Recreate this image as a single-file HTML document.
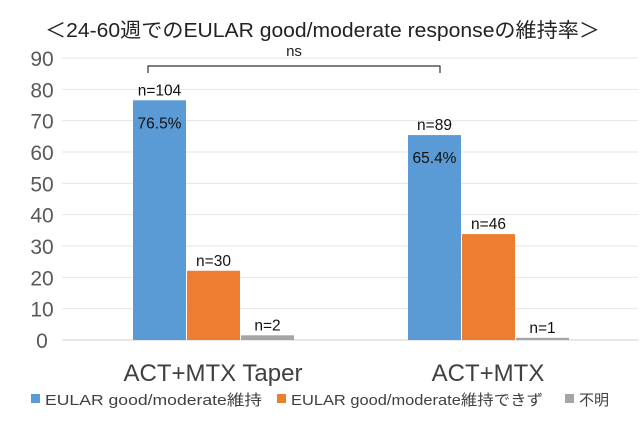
<!DOCTYPE html>
<html><head><meta charset="utf-8">
<style>
body{margin:0;background:#fff;}
svg{display:block;font-family:"Liberation Sans","Noto Sans CJK JP",sans-serif;}
</style></head>
<body>
<svg id="chart" width="640" height="430" viewBox="0 0 640 430">
<text x="45" y="37" textLength="555" lengthAdjust="spacingAndGlyphs" font-size="20" fill="#222">＜24-60週でのEULAR good/moderate responseの維持率＞</text>
<g id="grid"></g>
<g id="bars"></g>
<g id="labels"></g>
<g>
<path d="M148 73 V66 H440 V73" fill="none" stroke="#333" stroke-width="1.2"/>
<text x="294" y="56" text-anchor="middle" font-size="15" fill="#222">ns</text>
</g>
<g>
<g><rect x="31" y="394" width="9" height="9" fill="#5b9bd5"/><text x="45" y="405" font-size="15" textLength="217" lengthAdjust="spacingAndGlyphs" fill="#404040">EULAR good/moderate維持</text></g>
<g><rect x="277" y="394" width="9" height="9" fill="#ed7d31"/><text x="291" y="405" font-size="15" textLength="252" lengthAdjust="spacingAndGlyphs" fill="#404040">EULAR good/moderate維持できず</text></g>
<g><rect x="565" y="394" width="9" height="9" fill="#a5a5a5"/><text x="579" y="405" font-size="15" fill="#404040">不明</text></g>
</g>
</svg>
<script>
const categories=["ACT+MTX Taper","ACT+MTX"];
const maintained=[76.5,65.4];
const notMaintained=[22.1,33.8];
const unknown=[1.5,0.7];
const countMaintained=["n=104","n=89"];
const countNot=["n=30","n=46"];
const countUnknown=["n=2","n=1"];
const pctLabels=["76.5%","65.4%"];
const ticks=[0,10,20,30,40,50,60,70,80,90];

const NS="http://www.w3.org/2000/svg";
const y0=340,yTop=58,vmax=90;
const y=v=>y0-(v/vmax)*(y0-yTop);
const groupX=[133,408],bw=53;
function mk(tag,attrs,parent,txt){const e=document.createElementNS(NS,tag);for(const k in attrs)e.setAttribute(k,attrs[k]);if(txt!==undefined)e.textContent=txt;document.getElementById(parent).appendChild(e);return e;}
ticks.forEach(t=>{
 const l=mk("line",{x1:62,x2:638,y1:y(t),y2:y(t),stroke:t===0?"#d0d0d0":"#e6e6e6","stroke-width":1},"grid");
 
 
 const tx=mk("text",{x:42,y:y(t)+8,"text-anchor":"middle","font-size":21,fill:"#595959"},"grid",t);
 
 
});
const series=[[maintained,"#5b9bd5",countMaintained],[notMaintained,"#ed7d31",countNot],[unknown,"#a5a5a5",countUnknown]];
categories.forEach((c,i)=>{
 series.forEach((s,j)=>{
  const x=groupX[i]+j*bw+(j>0?j:0);
  const v=s[0][i];
  const r=mk("rect",{x:x,y:y(v),width:bw,height:y0-y(v),fill:s[1]},"bars");
  
  
  const t=mk("text",{x:x+bw/2,y:y(v)-5,"text-anchor":"middle","font-size":15.5,fill:"#111"},"labels",s[2][i]);
  
  
 });
 const p=mk("text",{x:groupX[i]+bw/2,y:y(maintained[i])+28,"text-anchor":"middle","font-size":15.5,fill:"#111"},"labels",pctLabels[i]);
 
 
 const cl=mk("text",{x:groupX[i]+80,y:381,"text-anchor":"middle","font-size":24,fill:"#404040"},"labels",c);
 
 
});
</script>
</body></html>
